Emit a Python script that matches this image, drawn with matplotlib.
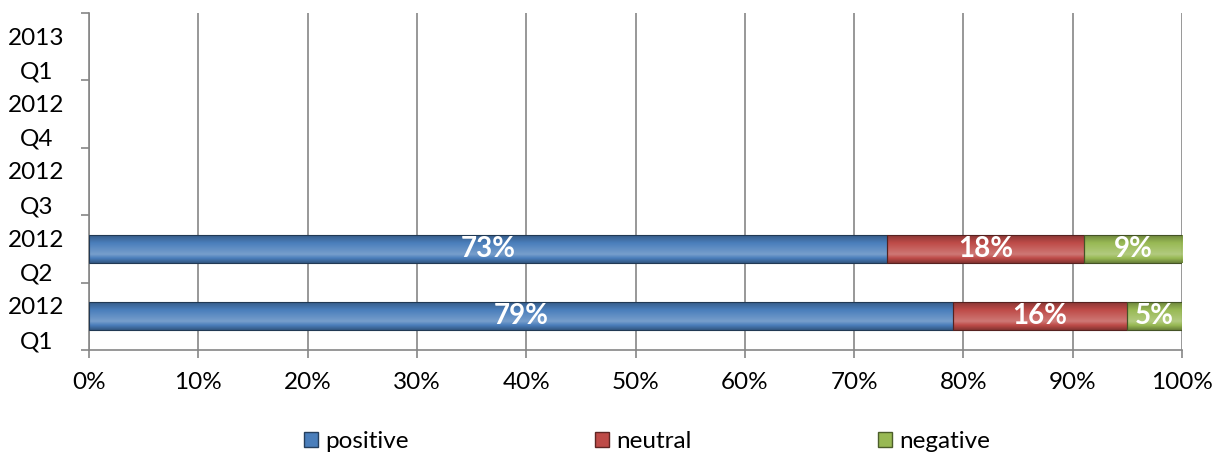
import matplotlib.pyplot as plt
import numpy as np
from matplotlib.colors import to_rgb

plt.rcParams['font.family'] = ['Lato', 'DejaVu Sans']

quarters = ['2012\nQ1', '2012\nQ2', '2012\nQ3', '2012\nQ4', '2013\nQ1']
positive = [79, 73]
neutral = [16, 18]
negative = [5, 9]
series = ['positive', 'neutral', 'negative']
colors = ['#4a7ebb', '#be4b48', '#98b954']


def shade(color, f):
    c = np.array(to_rgb(color))
    if f >= 0:
        return c + (1 - c) * f
    return c * (1 + f)


def gradient_fill(ax, patch, color):
    x, y = patch.get_x(), patch.get_y()
    w, h = patch.get_width(), patch.get_height()
    t = np.linspace(0, 1, 64)
    # light band near the top, darker towards the bottom
    f = np.interp(t, [0, 0.12, 0.3, 0.7, 1.0], [-0.3, -0.08, 0.25, 0.0, -0.3])
    img = np.array([shade(color, v) for v in f])[:, None, :]
    im = ax.imshow(img, extent=[x, x + w, y, y + h], origin='lower',
                   aspect='auto', zorder=3, interpolation='bilinear')
    im.set_clip_path(patch)


fig = plt.figure(figsize=(12.23, 4.55), dpi=100)
ax = fig.add_axes([0.0728, 0.2308, 0.8937, 0.7406])

y = np.arange(len(positive))
left = np.zeros(len(positive))
handles = []
for name, vals, col in zip(series, [positive, neutral, negative], colors):
    bars = ax.barh(y, vals, left=left, height=0.42, color=col,
                   edgecolor=shade(col, -0.55), linewidth=0.8, zorder=4,
                   label=name)
    for b in bars:
        b.set_facecolor('none')
        gradient_fill(ax, b, col)
    for b, v, l in zip(bars, vals, left):
        ax.text(l + v / 2, b.get_y() + b.get_height() / 2, f'{v}%',
                ha='center', va='center', color='white', fontsize=20,
                fontweight='bold', zorder=5)
    handles.append(plt.Rectangle((0, 0), 1, 1, facecolor=col,
                                 edgecolor=shade(col, -0.5)))
    left = left + np.array(vals)

ax.set_xlim(0, 100)
ax.set_ylim(-0.5, len(quarters) - 0.5)
ax.set_xticks(np.arange(0, 101, 10))
ax.set_xticklabels([f'{v}%' for v in range(0, 101, 10)], fontsize=17.5)
ax.set_yticks(np.arange(-0.5, len(quarters), 1))
ax.set_yticklabels([])
ax.set_yticks(np.arange(len(quarters)), minor=True)
ax.set_yticklabels(quarters, minor=True, fontsize=17.5, ha='center',
                   linespacing=1.75)
ax.tick_params(axis='y', which='minor', length=0, pad=38)
ax.tick_params(axis='y', which='major', length=6, color='#868686', width=1.2)
ax.tick_params(axis='x', length=6, color='#868686', width=1.2, pad=10)
ax.grid(axis='x', color='#868686', linewidth=1.2, zorder=1)
ax.set_axisbelow(True)
for s in ['top', 'right']:
    ax.spines[s].set_visible(False)
for s in ['left', 'bottom']:
    ax.spines[s].set_color('#868686')
    ax.spines[s].set_linewidth(1.2)

fig.legend(handles, series, loc='center', bbox_to_anchor=(0.529, 0.03),
           ncol=3, frameon=False, fontsize=17.5, handlelength=0.58,
           handleheight=0.58, handletextpad=0.3, columnspacing=7.65)

fig.savefig('out.png', dpi=100)
